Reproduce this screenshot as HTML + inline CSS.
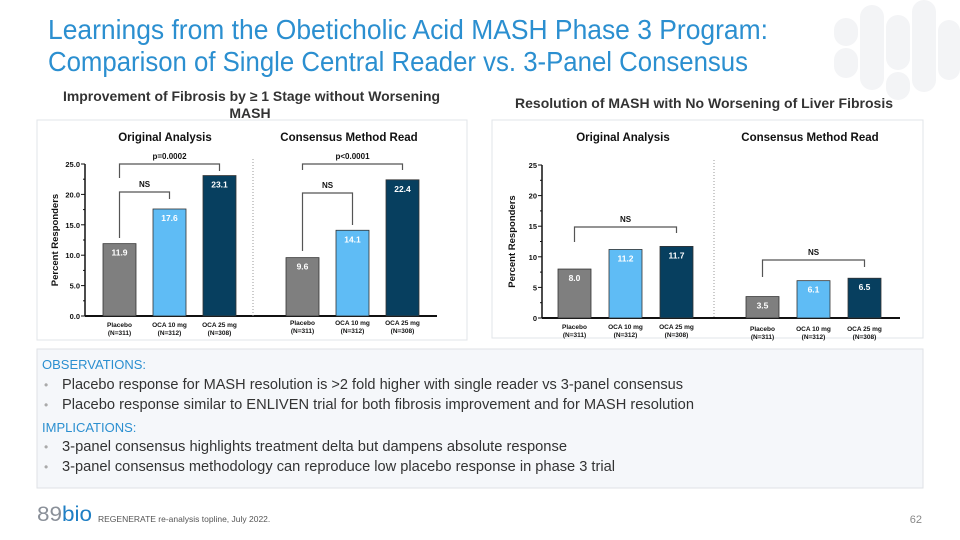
<!DOCTYPE html>
<html><head><meta charset="utf-8"><style>
html,body{margin:0;padding:0;background:#fff}
svg{display:block;font-family:"Liberation Sans",sans-serif}
</style></head><body>
<svg width="960" height="540" viewBox="0 0 960 540">
<g fill="#f3f4f6">
<rect x="834" y="18" width="24" height="28" rx="12"/><rect x="834" y="48" width="24" height="30" rx="12"/>
<rect x="860" y="5" width="24" height="85" rx="12"/><rect x="886" y="15" width="24" height="55" rx="12"/>
<rect x="886" y="72" width="24" height="28" rx="12"/><rect x="912" y="0" width="24" height="92" rx="12"/>
<rect x="938" y="20" width="22" height="60" rx="11"/>
</g>
<text x="48" y="39" font-size="28" fill="#2b8fd0" textLength="720" lengthAdjust="spacingAndGlyphs">Learnings from the Obeticholic Acid MASH Phase 3 Program:</text>
<text x="48" y="71" font-size="28" fill="#2b8fd0" textLength="700" lengthAdjust="spacingAndGlyphs">Comparison of Single Central Reader vs. 3-Panel Consensus</text>
<text x="63" y="101" font-size="14" font-weight="bold" fill="#333" textLength="377" lengthAdjust="spacingAndGlyphs">Improvement of Fibrosis by ≥ 1 Stage without Worsening</text>
<text x="250" y="118" font-size="14" font-weight="bold" fill="#333" text-anchor="middle">MASH</text>
<text x="515" y="108" font-size="14" font-weight="bold" fill="#333" textLength="378" lengthAdjust="spacingAndGlyphs">Resolution of MASH with No Worsening of Liver Fibrosis</text>
<rect x="37" y="120" width="430" height="220" fill="#fff" stroke="#e2e4e8"/>
<rect x="492" y="120" width="431" height="218" fill="#fff" stroke="#e2e4e8"/>
<g id="charts"></g>
<rect x="37" y="349" width="886" height="139" fill="#f5f7fa" stroke="#dfe2e6"/>
<g font-size="14.5" fill="#333">
<text x="42" y="369" fill="#2b8fd0" font-size="13">OBSERVATIONS:</text>
<text x="44" y="389" fill="#aaa" font-size="12">•</text>
<text x="62" y="389" textLength="621" lengthAdjust="spacingAndGlyphs">Placebo response for MASH resolution is &gt;2 fold higher with single reader vs 3-panel consensus</text>
<text x="44" y="409" fill="#aaa" font-size="12">•</text>
<text x="62" y="409" textLength="632" lengthAdjust="spacingAndGlyphs">Placebo response similar to ENLIVEN trial for both fibrosis improvement and for MASH resolution</text>
<text x="42" y="432" fill="#2b8fd0" font-size="13">IMPLICATIONS:</text>
<text x="44" y="451" fill="#aaa" font-size="12">•</text>
<text x="62" y="451" textLength="505" lengthAdjust="spacingAndGlyphs">3-panel consensus highlights treatment delta but dampens absolute response</text>
<text x="44" y="471" fill="#aaa" font-size="12">•</text>
<text x="62" y="471" textLength="553" lengthAdjust="spacingAndGlyphs">3-panel consensus methodology can reproduce low placebo response in phase 3 trial</text>
</g>
<text x="37" y="521" font-size="21" textLength="55" lengthAdjust="spacingAndGlyphs"><tspan fill="#8a9099">89</tspan><tspan fill="#1f7fc4">bio</tspan></text>
<text x="98" y="522" font-size="8.5" fill="#555">REGENERATE re-analysis topline, July 2022.</text>
<text x="922" y="523" font-size="11" fill="#888" text-anchor="end">62</text>
</svg>
<script>
const categories = ["Placebo","OCA 10 mg","OCA 25 mg"];
const catN = ["(N=311)","(N=312)","(N=308)"];
const fibOriginal = [11.9, 17.6, 23.1];
const fibConsensus = [9.6, 14.1, 22.4];
const mashOriginal = [8.0, 11.2, 11.7];
const mashConsensus = [3.5, 6.1, 6.5];
const fibTicks = ["0.0","5.0","10.0","15.0","20.0","25.0"];
const mashTicks = ["0","5","10","15","20","25"];
const colors=["#7f7f7f","#5fbcf5","#073f5f"];
const NS='http://www.w3.org/2000/svg';
const root=document.getElementById('charts');
function mk(t,a,p){const e=document.createElementNS(NS,t);for(const k in a)e.setAttribute(k,a[k]);(p||root).appendChild(e);return e;}
function chart(cfg){
  const g=mk('g',{});
  
  
  const y=v=>cfg.y0-(v/25)*(cfg.y0-cfg.y25);
  const ax=mk('line',{x1:cfg.ax,y1:cfg.y25,x2:cfg.ax,y2:cfg.y0,stroke:'#111','stroke-width':1.5},g);
  
  
  const xa=mk('line',{x1:cfg.ax,y1:cfg.y0,x2:cfg.axEnd,y2:cfg.y0,stroke:'#111','stroke-width':2},g);
  
  
  cfg.ticks.forEach((t,i)=>{
    const v=i*5, yy=y(v);
    mk('line',{x1:cfg.ax-4,y1:yy,x2:cfg.ax,y2:yy,stroke:'#111'},g);
    if(i<5) mk('line',{x1:cfg.ax-2,y1:y(v+2.5),x2:cfg.ax,y2:y(v+2.5),stroke:'#111'},g);
    const tx=mk('text',{x:cfg.ax-5,y:yy+3,'font-size':7.5,'font-weight':'bold','text-anchor':'end',fill:'#111'},g);
    tx.textContent=t;
    
    
  });
  const yt=mk('text',{x:0,y:0,'font-size':9.5,'font-weight':'bold',fill:'#111','text-anchor':'middle',transform:`translate(${cfg.ax-27},${(cfg.y0+cfg.y25)/2}) rotate(-90)`},g);
  yt.textContent='Percent Responders';
  
  
  const dv=mk('line',{x1:cfg.div,y1:cfg.y25-5,x2:cfg.div,y2:cfg.y0,stroke:'#999','stroke-dasharray':'1,2'},g);
  
  
  cfg.groups.forEach(gr=>{
    const ttl=mk('text',{x:gr.tx,y:141,'font-size':11.5,'font-weight':'bold','text-anchor':'middle',fill:'#111'},g);
    ttl.textContent=gr.title;
    
    
    gr.values.forEach((v,i)=>{
      const x=gr.x0+i*cfg.step, w=33;
      const r=mk('rect',{x:x,y:y(v),width:w,height:cfg.y0-y(v),fill:colors[i],stroke:'#333','stroke-width':0.8},g);
      
      
      const lb=mk('text',{x:x+w/2,y:y(v)+12,'font-size':8.5,'font-weight':'bold','text-anchor':'middle',fill:'#fff'},g);
      lb.textContent=cfg.fmt(v);
      
      
      const c1=mk('text',{x:x+w/2,y:cfg.y0+11+gr.lo,'font-size':6.5,'font-weight':'bold','text-anchor':'middle',fill:'#111'},g);
      c1.textContent=categories[i];
      
      
      const c2=mk('text',{x:x+w/2,y:cfg.y0+19+gr.lo,'font-size':6.5,'font-weight':'bold','text-anchor':'middle',fill:'#111'},g);
      c2.textContent=catN[i];
      
      
    });
    gr.brackets.forEach(b=>{
      const xa=gr.x0+b.a*cfg.step+16.5, xb=gr.x0+b.b*cfg.step+16.5;
      const p=mk('path',{d:`M${xa},${b.la} V${b.y} H${xb} V${b.lb}`,fill:'none',stroke:'#555','stroke-width':1.2},g);
      
      
      const t=mk('text',{x:(xa+xb)/2,y:b.y-5,'font-size':8,'font-weight':'bold','text-anchor':'middle',fill:'#111'},g);
      t.textContent=b.label;
      
      
    });
  });
}
chart({name:'fibrosis-chart',ax:85,axEnd:437,y0:316,y25:164,div:253,step:50,ticks:fibTicks,fmt:v=>v.toFixed(1),
 groups:[{key:'fib-original',title:'Original Analysis',tx:165,x0:103,lo:0,values:fibOriginal,
   brackets:[{a:0,b:2,y:164,la:178,lb:171,label:'p=0.0002'},{a:0,b:1,y:192,la:238,lb:199,label:'NS'}]},
  {key:'fib-consensus',title:'Consensus Method Read',tx:349,x0:286,lo:-2,values:fibConsensus,
   brackets:[{a:0,b:2,y:164,la:170,lb:170,label:'p<0.0001'},{a:0,b:1,y:193,la:251,lb:225,label:'NS'}]}]});
chart({name:'mash-resolution-chart',ax:542,axEnd:900,y0:318,y25:165,div:714,step:51,ticks:mashTicks,fmt:v=>v.toFixed(1),
 groups:[{key:'mash-original',title:'Original Analysis',tx:623,x0:558,lo:0,values:mashOriginal,
   brackets:[{a:0,b:2,y:227,la:242,lb:233,label:'NS'}]},
  {key:'mash-consensus',title:'Consensus Method Read',tx:810,x0:746,lo:2,values:mashConsensus,
   brackets:[{a:0,b:2,y:260,la:277,lb:267,label:'NS'}]}]});
</script>
</body></html>
